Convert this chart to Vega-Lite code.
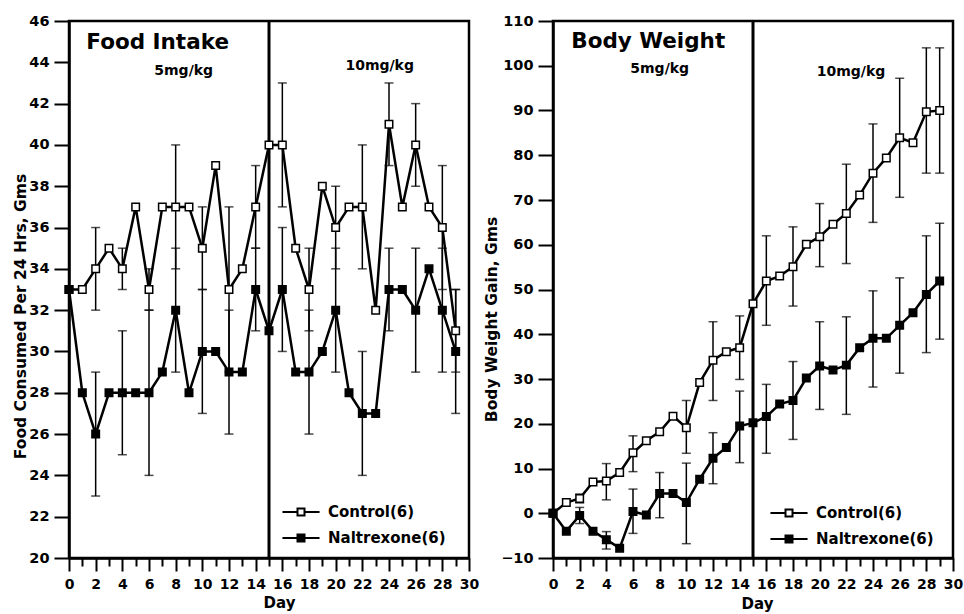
{
  "$schema": "https://vega.github.io/schema/vega-lite/v6.json",
  "background": "white",
  "padding": {"left": 11, "top": 11, "right": 5, "bottom": 3},
  "config": {
    "font": "DejaVu Sans",
    "view": {"stroke": "black", "strokeWidth": 2.5},
    "axis": {
      "domainColor": "black", "domainWidth": 2.5, "tickColor": "black", "tickWidth": 2,
      "labelFont": "DejaVu Sans", "labelFontWeight": "bold", "labelFontSize": 14.5, "labelColor": "black",
      "titleFont": "DejaVu Sans", "titleFontWeight": "bold", "titleFontSize": 15.5, "titleColor": "black",
      "grid": false, "labelOverlap": false, "labelFlush": false
    },
    "axisX": {"labelFontSize": 14, "titleFontSize": 15},
    "legend": {
      "labelFont": "DejaVu Sans", "labelFontWeight": "bold", "labelFontSize": 15, "labelColor": "black"
    }
  },
  "datasets": {
    "food": [
      {"day":0,"value":33,"series":"Control(6)"},{"day":1,"value":33,"series":"Control(6)"},{"day":2,"value":34,"series":"Control(6)"},{"day":3,"value":35,"series":"Control(6)"},{"day":4,"value":34,"series":"Control(6)"},{"day":5,"value":37,"series":"Control(6)"},{"day":6,"value":33,"series":"Control(6)"},{"day":7,"value":37,"series":"Control(6)"},{"day":8,"value":37,"series":"Control(6)"},{"day":9,"value":37,"series":"Control(6)"},{"day":10,"value":35,"series":"Control(6)"},{"day":11,"value":39,"series":"Control(6)"},{"day":12,"value":33,"series":"Control(6)"},{"day":13,"value":34,"series":"Control(6)"},{"day":14,"value":37,"series":"Control(6)"},{"day":15,"value":40,"series":"Control(6)"},{"day":16,"value":40,"series":"Control(6)"},{"day":17,"value":35,"series":"Control(6)"},{"day":18,"value":33,"series":"Control(6)"},{"day":19,"value":38,"series":"Control(6)"},{"day":20,"value":36,"series":"Control(6)"},{"day":21,"value":37,"series":"Control(6)"},{"day":22,"value":37,"series":"Control(6)"},{"day":23,"value":32,"series":"Control(6)"},{"day":24,"value":41,"series":"Control(6)"},{"day":25,"value":37,"series":"Control(6)"},{"day":26,"value":40,"series":"Control(6)"},{"day":27,"value":37,"series":"Control(6)"},{"day":28,"value":36,"series":"Control(6)"},{"day":29,"value":31,"series":"Control(6)"},
      {"day":0,"value":33,"series":"Naltrexone(6)"},{"day":1,"value":28,"series":"Naltrexone(6)"},{"day":2,"value":26,"series":"Naltrexone(6)"},{"day":3,"value":28,"series":"Naltrexone(6)"},{"day":4,"value":28,"series":"Naltrexone(6)"},{"day":5,"value":28,"series":"Naltrexone(6)"},{"day":6,"value":28,"series":"Naltrexone(6)"},{"day":7,"value":29,"series":"Naltrexone(6)"},{"day":8,"value":32,"series":"Naltrexone(6)"},{"day":9,"value":28,"series":"Naltrexone(6)"},{"day":10,"value":30,"series":"Naltrexone(6)"},{"day":11,"value":30,"series":"Naltrexone(6)"},{"day":12,"value":29,"series":"Naltrexone(6)"},{"day":13,"value":29,"series":"Naltrexone(6)"},{"day":14,"value":33,"series":"Naltrexone(6)"},{"day":15,"value":31,"series":"Naltrexone(6)"},{"day":16,"value":33,"series":"Naltrexone(6)"},{"day":17,"value":29,"series":"Naltrexone(6)"},{"day":18,"value":29,"series":"Naltrexone(6)"},{"day":19,"value":30,"series":"Naltrexone(6)"},{"day":20,"value":32,"series":"Naltrexone(6)"},{"day":21,"value":28,"series":"Naltrexone(6)"},{"day":22,"value":27,"series":"Naltrexone(6)"},{"day":23,"value":27,"series":"Naltrexone(6)"},{"day":24,"value":33,"series":"Naltrexone(6)"},{"day":25,"value":33,"series":"Naltrexone(6)"},{"day":26,"value":32,"series":"Naltrexone(6)"},{"day":27,"value":34,"series":"Naltrexone(6)"},{"day":28,"value":32,"series":"Naltrexone(6)"},{"day":29,"value":30,"series":"Naltrexone(6)"}
    ],
    "foodErr": [
      {"day":2,"lo":32,"hi":36,"series":"Control(6)"},{"day":4,"lo":33,"hi":35,"series":"Control(6)"},{"day":6,"lo":32,"hi":34,"series":"Control(6)"},{"day":8,"lo":34,"hi":40,"series":"Control(6)"},{"day":10,"lo":33,"hi":37,"series":"Control(6)"},{"day":12,"lo":29,"hi":37,"series":"Control(6)"},{"day":14,"lo":35,"hi":39,"series":"Control(6)"},{"day":16,"lo":37,"hi":43,"series":"Control(6)"},{"day":18,"lo":31,"hi":35,"series":"Control(6)"},{"day":20,"lo":34,"hi":38,"series":"Control(6)"},{"day":22,"lo":34,"hi":40,"series":"Control(6)"},{"day":24,"lo":39,"hi":43,"series":"Control(6)"},{"day":26,"lo":38,"hi":42,"series":"Control(6)"},{"day":28,"lo":33,"hi":39,"series":"Control(6)"},{"day":29,"lo":29,"hi":33,"series":"Control(6)"},
      {"day":2,"lo":23,"hi":29,"series":"Naltrexone(6)"},{"day":4,"lo":25,"hi":31,"series":"Naltrexone(6)"},{"day":6,"lo":24,"hi":32,"series":"Naltrexone(6)"},{"day":8,"lo":29,"hi":35,"series":"Naltrexone(6)"},{"day":10,"lo":27,"hi":33,"series":"Naltrexone(6)"},{"day":12,"lo":26,"hi":32,"series":"Naltrexone(6)"},{"day":14,"lo":31,"hi":35,"series":"Naltrexone(6)"},{"day":16,"lo":30,"hi":36,"series":"Naltrexone(6)"},{"day":18,"lo":26,"hi":32,"series":"Naltrexone(6)"},{"day":20,"lo":29,"hi":35,"series":"Naltrexone(6)"},{"day":22,"lo":24,"hi":30,"series":"Naltrexone(6)"},{"day":24,"lo":31,"hi":35,"series":"Naltrexone(6)"},{"day":26,"lo":29,"hi":35,"series":"Naltrexone(6)"},{"day":28,"lo":29,"hi":35,"series":"Naltrexone(6)"},{"day":29,"lo":27,"hi":33,"series":"Naltrexone(6)"}
    ],
    "bw": [
      {"day":0,"value":0,"series":"Control(6)"},{"day":1,"value":2.4,"series":"Control(6)"},{"day":2,"value":3.3,"series":"Control(6)"},{"day":3,"value":7.0,"series":"Control(6)"},{"day":4,"value":7.2,"series":"Control(6)"},{"day":5,"value":9.1,"series":"Control(6)"},{"day":6,"value":13.5,"series":"Control(6)"},{"day":7,"value":16.2,"series":"Control(6)"},{"day":8,"value":18.2,"series":"Control(6)"},{"day":9,"value":21.7,"series":"Control(6)"},{"day":10,"value":19.1,"series":"Control(6)"},{"day":11,"value":29.2,"series":"Control(6)"},{"day":12,"value":34.2,"series":"Control(6)"},{"day":13,"value":36.1,"series":"Control(6)"},{"day":14,"value":37.0,"series":"Control(6)"},{"day":15,"value":46.8,"series":"Control(6)"},{"day":16,"value":51.9,"series":"Control(6)"},{"day":17,"value":53.0,"series":"Control(6)"},{"day":18,"value":55.1,"series":"Control(6)"},{"day":19,"value":60.1,"series":"Control(6)"},{"day":20,"value":61.8,"series":"Control(6)"},{"day":21,"value":64.6,"series":"Control(6)"},{"day":22,"value":67.0,"series":"Control(6)"},{"day":23,"value":71.1,"series":"Control(6)"},{"day":24,"value":76.0,"series":"Control(6)"},{"day":25,"value":79.4,"series":"Control(6)"},{"day":26,"value":83.9,"series":"Control(6)"},{"day":27,"value":82.8,"series":"Control(6)"},{"day":28,"value":89.7,"series":"Control(6)"},{"day":29,"value":90.0,"series":"Control(6)"},
      {"day":0,"value":0,"series":"Naltrexone(6)"},{"day":1,"value":-4.0,"series":"Naltrexone(6)"},{"day":2,"value":-0.5,"series":"Naltrexone(6)"},{"day":3,"value":-4.0,"series":"Naltrexone(6)"},{"day":4,"value":-5.9,"series":"Naltrexone(6)"},{"day":5,"value":-7.8,"series":"Naltrexone(6)"},{"day":6,"value":0.4,"series":"Naltrexone(6)"},{"day":7,"value":-0.4,"series":"Naltrexone(6)"},{"day":8,"value":4.4,"series":"Naltrexone(6)"},{"day":9,"value":4.4,"series":"Naltrexone(6)"},{"day":10,"value":2.4,"series":"Naltrexone(6)"},{"day":11,"value":7.6,"series":"Naltrexone(6)"},{"day":12,"value":12.3,"series":"Naltrexone(6)"},{"day":13,"value":14.7,"series":"Naltrexone(6)"},{"day":14,"value":19.5,"series":"Naltrexone(6)"},{"day":15,"value":20.2,"series":"Naltrexone(6)"},{"day":16,"value":21.6,"series":"Naltrexone(6)"},{"day":17,"value":24.4,"series":"Naltrexone(6)"},{"day":18,"value":25.2,"series":"Naltrexone(6)"},{"day":19,"value":30.2,"series":"Naltrexone(6)"},{"day":20,"value":32.9,"series":"Naltrexone(6)"},{"day":21,"value":32.0,"series":"Naltrexone(6)"},{"day":22,"value":33.1,"series":"Naltrexone(6)"},{"day":23,"value":37.0,"series":"Naltrexone(6)"},{"day":24,"value":39.1,"series":"Naltrexone(6)"},{"day":25,"value":39.1,"series":"Naltrexone(6)"},{"day":26,"value":42.0,"series":"Naltrexone(6)"},{"day":27,"value":44.8,"series":"Naltrexone(6)"},{"day":28,"value":48.9,"series":"Naltrexone(6)"},{"day":29,"value":51.9,"series":"Naltrexone(6)"}
    ],
    "bwErr": [
      {"day":2,"lo":2.3,"hi":4.3,"series":"Control(6)"},{"day":4,"lo":3.0,"hi":11.1,"series":"Control(6)"},{"day":6,"lo":9.3,"hi":17.3,"series":"Control(6)"},{"day":10,"lo":13.4,"hi":25.2,"series":"Control(6)"},{"day":12,"lo":25.2,"hi":42.8,"series":"Control(6)"},{"day":14,"lo":29.9,"hi":44.1,"series":"Control(6)"},{"day":16,"lo":42.0,"hi":62.0,"series":"Control(6)"},{"day":18,"lo":46.3,"hi":64.0,"series":"Control(6)"},{"day":20,"lo":55.1,"hi":69.2,"series":"Control(6)"},{"day":22,"lo":55.8,"hi":78.0,"series":"Control(6)"},{"day":24,"lo":65.0,"hi":87.0,"series":"Control(6)"},{"day":26,"lo":70.6,"hi":97.2,"series":"Control(6)"},{"day":28,"lo":76.0,"hi":104.0,"series":"Control(6)"},{"day":29,"lo":76.0,"hi":104.0,"series":"Control(6)"},
      {"day":2,"lo":-2.3,"hi":1.3,"series":"Naltrexone(6)"},{"day":4,"lo":-8.0,"hi":-4.1,"series":"Naltrexone(6)"},{"day":6,"lo":-4.5,"hi":5.4,"series":"Naltrexone(6)"},{"day":8,"lo":-1.0,"hi":9.1,"series":"Naltrexone(6)"},{"day":10,"lo":-6.8,"hi":11.2,"series":"Naltrexone(6)"},{"day":12,"lo":6.6,"hi":18.0,"series":"Naltrexone(6)"},{"day":14,"lo":11.3,"hi":27.3,"series":"Naltrexone(6)"},{"day":16,"lo":13.4,"hi":28.8,"series":"Naltrexone(6)"},{"day":18,"lo":16.5,"hi":33.9,"series":"Naltrexone(6)"},{"day":20,"lo":23.2,"hi":42.8,"series":"Naltrexone(6)"},{"day":22,"lo":22.1,"hi":43.9,"series":"Naltrexone(6)"},{"day":24,"lo":28.2,"hi":49.7,"series":"Naltrexone(6)"},{"day":26,"lo":31.3,"hi":52.6,"series":"Naltrexone(6)"},{"day":28,"lo":35.9,"hi":62.0,"series":"Naltrexone(6)"},{"day":29,"lo":38.9,"hi":64.8,"series":"Naltrexone(6)"}
    ]
  },
  "spacing": 84,
  "bounds": "flush",
  "resolve": {"scale": {"x": "independent", "y": "independent", "fill": "independent"}, "legend": {"fill": "independent"}},
  "hconcat": [
    {
      "width": 400, "height": 537,
      "encoding": {
        "x": {"field": "day", "type": "quantitative", "scale": {"domain": [0, 30], "nice": false, "zero": false},
          "axis": {"title": "Day", "values": [0,1,2,3,4,5,6,7,8,9,10,11,12,13,14,15,16,17,18,19,20,21,22,23,24,25,26,27,28,29,30],
            "labelExpr": "datum.value % 2 == 0 ? datum.label : ''",
            "tickSize": {"condition": {"test": "datum.value % 2 == 0", "value": 13}, "value": 8},
            "labelPadding": 6, "titleX": 210, "titleY": 44, "titleBaseline": "middle"}}
      },
      "layer": [
        {"data": {"name": "food"}, "transform": [{"filter": "datum.day == 0 && datum.series == 'Control(6)'"}],
          "mark": {"type": "rule", "color": "black", "strokeWidth": 3},
          "encoding": {"x": {"datum": 15, "type": "quantitative"}}},
        {"data": {"name": "foodErr"}, "mark": {"type": "rule", "color": "black", "strokeWidth": 1.5},
          "encoding": {"y": {"field": "lo", "type": "quantitative", "scale": {"domain": [20, 46], "nice": false, "zero": false}, "title": "Food Consumed Per 24 Hrs, Gms"}, "y2": {"field": "hi"}, "detail": {"field": "series"}}},
        {"data": {"name": "foodErr"}, "mark": {"type": "tick", "orient": "horizontal", "color": "black", "size": 9, "thickness": 1.5},
          "encoding": {"y": {"field": "lo", "type": "quantitative", "title": "Food Consumed Per 24 Hrs, Gms"}}},
        {"data": {"name": "foodErr"}, "mark": {"type": "tick", "orient": "horizontal", "color": "black", "size": 9, "thickness": 1.5},
          "encoding": {"y": {"field": "hi", "type": "quantitative", "title": "Food Consumed Per 24 Hrs, Gms"}}},
        {"data": {"name": "food"}, "mark": {"type": "line", "color": "black", "strokeWidth": 2.5},
          "encoding": {"y": {"field": "value", "type": "quantitative", "scale": {"domain": [20, 46], "nice": false, "zero": false},
            "axis": {"title": "Food Consumed Per 24 Hrs, Gms", "values": [20,21,22,23,24,25,26,27,28,29,30,31,32,33,34,35,36,37,38,39,40,41,42,43,44,45,46],
              "labelExpr": "datum.value % 2 == 0 ? datum.label : ''",
              "tickSize": {"condition": {"test": "datum.value % 2 == 0", "value": 15}, "value": 7},
              "labelPadding": 5, "titleX": -49, "titleY": 295, "titleBaseline": "middle"}},
            "detail": {"field": "series"}}},
        {"data": {"name": "food"}, "mark": {"type": "point", "shape": "square", "filled": true, "size": 56, "stroke": "black", "strokeWidth": 1.5, "opacity": 1},
          "encoding": {"y": {"field": "value", "type": "quantitative", "title": "Food Consumed Per 24 Hrs, Gms"},
            "fill": {"field": "series", "type": "nominal", "scale": {"domain": ["Control(6)", "Naltrexone(6)"], "range": ["white", "black"]},
              "legend": {"title": null, "orient": "none", "legendX": 224, "legendY": 483, "padding": 0,
                "symbolType": "M-2.65,0H-0.5M0.5,0H2.65M-0.5,-0.5H0.5V0.5H-0.5Z", "symbolSize": 196,
                "symbolStrokeColor": "black", "symbolStrokeWidth": 2, "labelOffset": 19, "rowPadding": 10}}}},
        {"data": {"name": "food"}, "transform": [{"filter": "datum.day == 0 && datum.series == 'Control(6)'"}],
          "mark": {"type": "text", "text": "Food Intake", "align": "left", "baseline": "alphabetic", "fontSize": 21.5, "fontWeight": "bold", "font": "DejaVu Sans", "color": "black"},
          "encoding": {"x": {"datum": 1.3, "type": "quantitative"}, "y": {"datum": 44.65, "type": "quantitative"}}},
        {"data": {"name": "food"}, "transform": [{"filter": "datum.day == 0 && datum.series == 'Control(6)'"}],
          "mark": {"type": "text", "text": "5mg/kg", "align": "center", "baseline": "middle", "fontSize": 14, "fontWeight": "bold", "font": "DejaVu Sans", "color": "black"},
          "encoding": {"x": {"datum": 8.6, "type": "quantitative"}, "y": {"datum": 43.6, "type": "quantitative"}}},
        {"data": {"name": "food"}, "transform": [{"filter": "datum.day == 0 && datum.series == 'Control(6)'"}],
          "mark": {"type": "text", "text": "10mg/kg", "align": "center", "baseline": "middle", "fontSize": 14, "fontWeight": "bold", "font": "DejaVu Sans", "color": "black"},
          "encoding": {"x": {"datum": 23.3, "type": "quantitative"}, "y": {"datum": 43.8, "type": "quantitative"}}}
      ]
    },
    {
      "width": 400, "height": 537,
      "encoding": {
        "x": {"field": "day", "type": "quantitative", "scale": {"domain": [0, 30], "nice": false, "zero": false},
          "axis": {"title": "Day", "values": [0,1,2,3,4,5,6,7,8,9,10,11,12,13,14,15,16,17,18,19,20,21,22,23,24,25,26,27,28,29,30],
            "labelExpr": "datum.value % 2 == 0 ? datum.label : ''",
            "tickSize": {"condition": {"test": "datum.value % 2 == 0", "value": 13}, "value": 8},
            "labelPadding": 6, "titleX": 204, "titleY": 45, "titleBaseline": "middle"}}
      },
      "layer": [
        {"data": {"name": "bw"}, "transform": [{"filter": "datum.day == 0 && datum.series == 'Control(6)'"}],
          "mark": {"type": "rule", "color": "black", "strokeWidth": 3},
          "encoding": {"x": {"datum": 15, "type": "quantitative"}}},
        {"data": {"name": "bwErr"}, "mark": {"type": "rule", "color": "black", "strokeWidth": 1.5},
          "encoding": {"y": {"field": "lo", "type": "quantitative", "scale": {"domain": [-10, 110], "nice": false, "zero": false}, "title": "Body Weight Gain, Gms"}, "y2": {"field": "hi"}, "detail": {"field": "series"}}},
        {"data": {"name": "bwErr"}, "mark": {"type": "tick", "orient": "horizontal", "color": "black", "size": 9, "thickness": 1.5},
          "encoding": {"y": {"field": "lo", "type": "quantitative", "title": "Body Weight Gain, Gms"}}},
        {"data": {"name": "bwErr"}, "mark": {"type": "tick", "orient": "horizontal", "color": "black", "size": 9, "thickness": 1.5},
          "encoding": {"y": {"field": "hi", "type": "quantitative", "title": "Body Weight Gain, Gms"}}},
        {"data": {"name": "bw"}, "mark": {"type": "line", "color": "black", "strokeWidth": 2.5},
          "encoding": {"y": {"field": "value", "type": "quantitative", "scale": {"domain": [-10, 110], "nice": false, "zero": false},
            "axis": {"title": "Body Weight Gain, Gms", "values": [-10,0,10,20,30,40,50,60,70,80,90,100,110],
              "tickSize": 15, "labelPadding": 5, "titleX": -62, "titleY": 298, "titleBaseline": "middle"}},
            "detail": {"field": "series"}}},
        {"data": {"name": "bw"}, "mark": {"type": "point", "shape": "square", "filled": true, "size": 56, "stroke": "black", "strokeWidth": 1.5, "opacity": 1},
          "encoding": {"y": {"field": "value", "type": "quantitative", "title": "Body Weight Gain, Gms"},
            "fill": {"field": "series", "type": "nominal", "scale": {"domain": ["Control(6)", "Naltrexone(6)"], "range": ["white", "black"]},
              "legend": {"title": null, "orient": "none", "legendX": 228, "legendY": 484, "padding": 0,
                "symbolType": "M-2.65,0H-0.5M0.5,0H2.65M-0.5,-0.5H0.5V0.5H-0.5Z", "symbolSize": 196,
                "symbolStrokeColor": "black", "symbolStrokeWidth": 2, "labelOffset": 19, "rowPadding": 10}}}},
        {"data": {"name": "bw"}, "transform": [{"filter": "datum.day == 0 && datum.series == 'Control(6)'"}],
          "mark": {"type": "text", "text": "Body Weight", "align": "left", "baseline": "alphabetic", "fontSize": 21.5, "fontWeight": "bold", "font": "DejaVu Sans", "color": "black"},
          "encoding": {"x": {"datum": 1.37, "type": "quantitative"}, "y": {"datum": 104.0, "type": "quantitative"}}},
        {"data": {"name": "bw"}, "transform": [{"filter": "datum.day == 0 && datum.series == 'Control(6)'"}],
          "mark": {"type": "text", "text": "5mg/kg", "align": "center", "baseline": "middle", "fontSize": 14, "fontWeight": "bold", "font": "DejaVu Sans", "color": "black"},
          "encoding": {"x": {"datum": 8.0, "type": "quantitative"}, "y": {"datum": 99.3, "type": "quantitative"}}},
        {"data": {"name": "bw"}, "transform": [{"filter": "datum.day == 0 && datum.series == 'Control(6)'"}],
          "mark": {"type": "text", "text": "10mg/kg", "align": "center", "baseline": "middle", "fontSize": 14, "fontWeight": "bold", "font": "DejaVu Sans", "color": "black"},
          "encoding": {"x": {"datum": 22.35, "type": "quantitative"}, "y": {"datum": 98.6, "type": "quantitative"}}}
      ]
    }
  ]
}
